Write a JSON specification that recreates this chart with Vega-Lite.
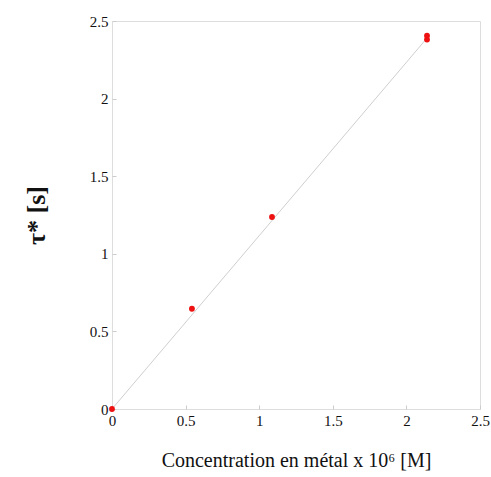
{
  "$schema": "https://vega.github.io/schema/vega-lite/v6.json",
  "width": 368,
  "height": 388,
  "autosize": "none",
  "padding": {"left": 112, "top": 21, "right": 11, "bottom": 68},
  "background": "white",
  "config": {
    "view": {"stroke": "#dddddd", "strokeWidth": 1},
    "font": "Liberation Serif",
    "axis": {
      "grid": false,
      "domain": false,
      "tickColor": "#cccccc",
      "tickSize": -4,
      "labelFlush": false,
      "labelFont": "Liberation Serif",
      "labelFontSize": 14,
      "labelColor": "#111111",
      "titleFont": "Liberation Serif",
      "titleFontWeight": "normal",
      "titleColor": "#111111"
    }
  },
  "data": {
    "values": [
      {"c": 0, "tau": 0},
      {"c": 0.543, "tau": 0.646},
      {"c": 1.087, "tau": 1.237},
      {"c": 2.14, "tau": 2.38},
      {"c": 2.14, "tau": 2.405}
    ]
  },
  "layer": [
    {
      "data": {"values": [{"c": 0, "tau": 0}, {"c": 2.14, "tau": 2.39}]},
      "mark": {"type": "line", "color": "#cfcfcf", "strokeWidth": 1},
      "encoding": {
        "x": {"field": "c", "type": "quantitative", "scale": {"domain": [0, 2.5], "nice": false},
          "axis": {"values": [0, 0.5, 1, 1.5, 2, 2.5], "format": "~g", "labelPadding": 8, "labelFont": "Liberation Serif", "labelFontSize": 15, "title": "Concentration en métal x 10⁶ [M]", "titleFontSize": 20, "titlePadding": 22}},
        "y": {"field": "tau", "type": "quantitative", "scale": {"domain": [0, 2.5], "nice": false},
          "axis": {"values": [0, 0.5, 1, 1.5, 2, 2.5], "format": "~g", "labelPadding": 8, "labelFont": "Liberation Serif", "labelFontSize": 15, "title": "τ* [s]", "titleFontSize": 26, "titleFontWeight": "bold", "titlePadding": 40}}
      }
    },
    {
      "mark": {"type": "circle", "color": "#ee1111", "opacity": 1, "size": 34},
      "encoding": {
        "x": {"field": "c", "type": "quantitative"},
        "y": {"field": "tau", "type": "quantitative"}
      }
    }
  ]
}
